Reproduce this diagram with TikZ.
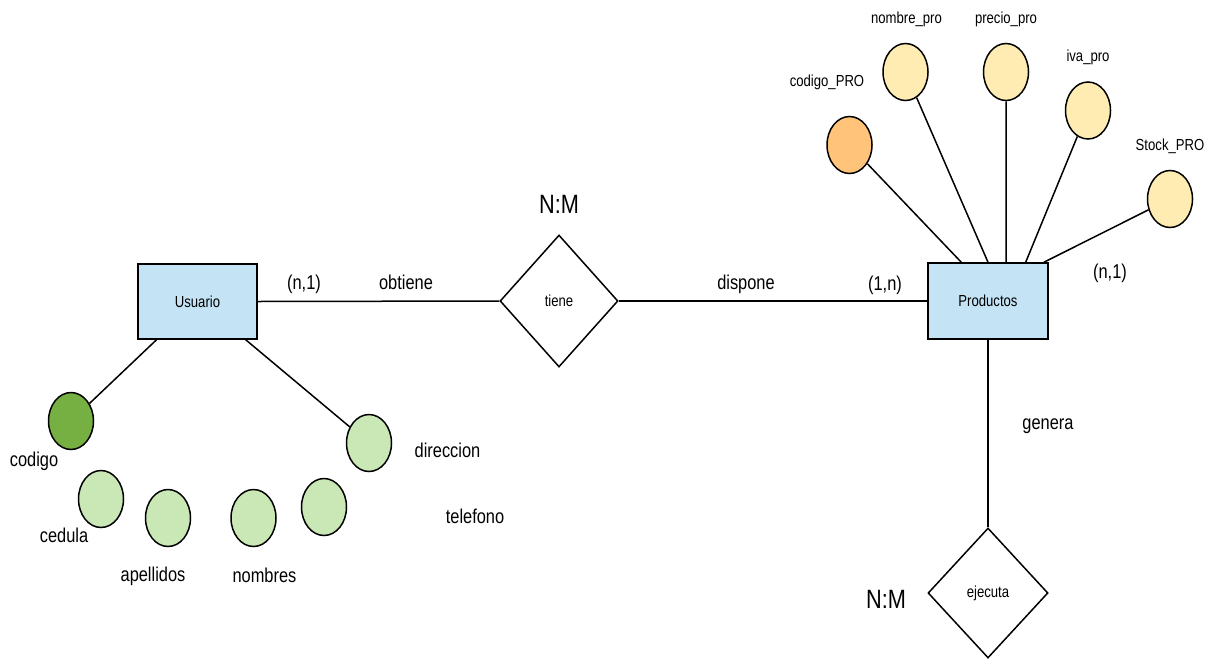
\documentclass[tikz,border=0pt]{standalone}
\usepackage{fontspec}
\setmainfont{Liberation Sans}[FakeStretch=0.82]
\usetikzlibrary{shapes.geometric,calc}
\definecolor{entblue}{HTML}{C4E4F6}
\definecolor{darkgreen}{HTML}{76B042}
\definecolor{lightgreen}{HTML}{CAE8B5}
\definecolor{lightyellow}{HTML}{FFECB3}
\definecolor{keyorange}{HTML}{FFC47A}
\begin{document}
\begin{tikzpicture}[x=1pt,y=-1pt,line width=1.5pt,
  lbl/.style={font=\fontsize{20}{24}\selectfont,anchor=base,inner sep=0},
  sml/.style={font=\fontsize{16}{19}\selectfont,anchor=base,inner sep=0},
  big/.style={font=\fontsize{26.5}{30}\selectfont,anchor=base,inner sep=0},
  ent/.style={draw,fill=entblue,minimum width=119pt,minimum height=75pt,inner sep=0,font=\fontsize{16}{19}\selectfont},
  rel/.style={draw,diamond,minimum width=118pt,minimum height=132pt,inner sep=0,fill=white,font=\fontsize{16}{19}\selectfont},
  att/.style={draw,ellipse,minimum width=45pt,minimum height=57pt,inner sep=0},
]
\useasboundingbox[fill=white] (0,0) rectangle (1214,659);

% entities and relations
\node[ent] (usu) at (197.5,301.5) {Usuario};
\node[ent,minimum width=120pt,minimum height=76pt] (prod) at (988,301) {Productos};
\node[rel] (tiene) at (559,301) {tiene};
\node[rel,minimum width=120pt,minimum height=130pt] (ejec) at (988,593) {ejecuta};

\draw (usu.east) -- (tiene.west);
\draw (tiene.east) -- (prod.west);
\draw (prod.south) -- (ejec.north);

% relation labels
\node[big] (nm1) at (559,213) {N:M};
\node[big] (nm2) at (886,608) {N:M};
\node[lbl] (c1) at (304,289) {(n,1)};
\node[lbl] (obt) at (406,289) {obtiene};
\node[lbl] (dis) at (746,289) {dispone};
\node[lbl] (c2) at (885,290) {(1,n)};
\node[lbl] (c3) at (1110,278) {(n,1)};
\node[lbl] (gen) at (1048,429) {genera};

% Usuario attributes
\node[att,fill=darkgreen] (cod) at (71,421) {};
\node[att,fill=lightgreen] (ced) at (101,499) {};
\node[att,fill=lightgreen] (ape) at (168,518) {};
\node[att,fill=lightgreen] (nom) at (253.5,518) {};
\node[att,fill=lightgreen] (tel) at (324,507) {};
\node[att,fill=lightgreen] (dir) at (369,443) {};

\draw ($(usu.south west)!0.16!(usu.south east)$) -- (cod);
\draw ($(usu.south west)!0.90!(usu.south east)$) -- (dir);

\node[lbl] (lcod) at (34,466) {codigo};
\node[lbl] (lced) at (64,542) {cedula};
\node[lbl] (lape) at (153,581) {apellidos};
\node[lbl] (lnom) at (264.5,582) {nombres};
\node[lbl] (ltel) at (475,523) {telefono};
\node[lbl] (ldir) at (447.5,457) {direccion};

% Productos attributes
\node[att,fill=keyorange] (cpro) at (849.5,145) {};
\node[att,fill=lightyellow] (npro) at (905.5,72) {};
\node[att,fill=lightyellow] (ppro) at (1006,72) {};
\node[att,fill=lightyellow] (ipro) at (1088,110.5) {};
\node[att,fill=lightyellow] (spro) at (1170,199) {};

\draw ($(prod.north west)!0.28!(prod.north east)$) -- (cpro);
\draw ($(prod.north west)!0.50!(prod.north east)$) -- (npro);
\draw ($(prod.north west)!0.65!(prod.north east)$) -- (ppro);
\draw ($(prod.north west)!0.81!(prod.north east)$) -- (ipro);
\draw ($(prod.north west)!0.96!(prod.north east)$) -- (spro);

\node[sml] (lcpro) at (827,86) {codigo\_PRO};
\node[sml] (lnpro) at (906.5,23) {nombre\_pro};
\node[sml] (lppro) at (1006,23) {precio\_pro};
\node[sml] (lipro) at (1088,61) {iva\_pro};
\node[sml] (lspro) at (1170,150) {Stock\_PRO};
\end{tikzpicture}
\end{document}
